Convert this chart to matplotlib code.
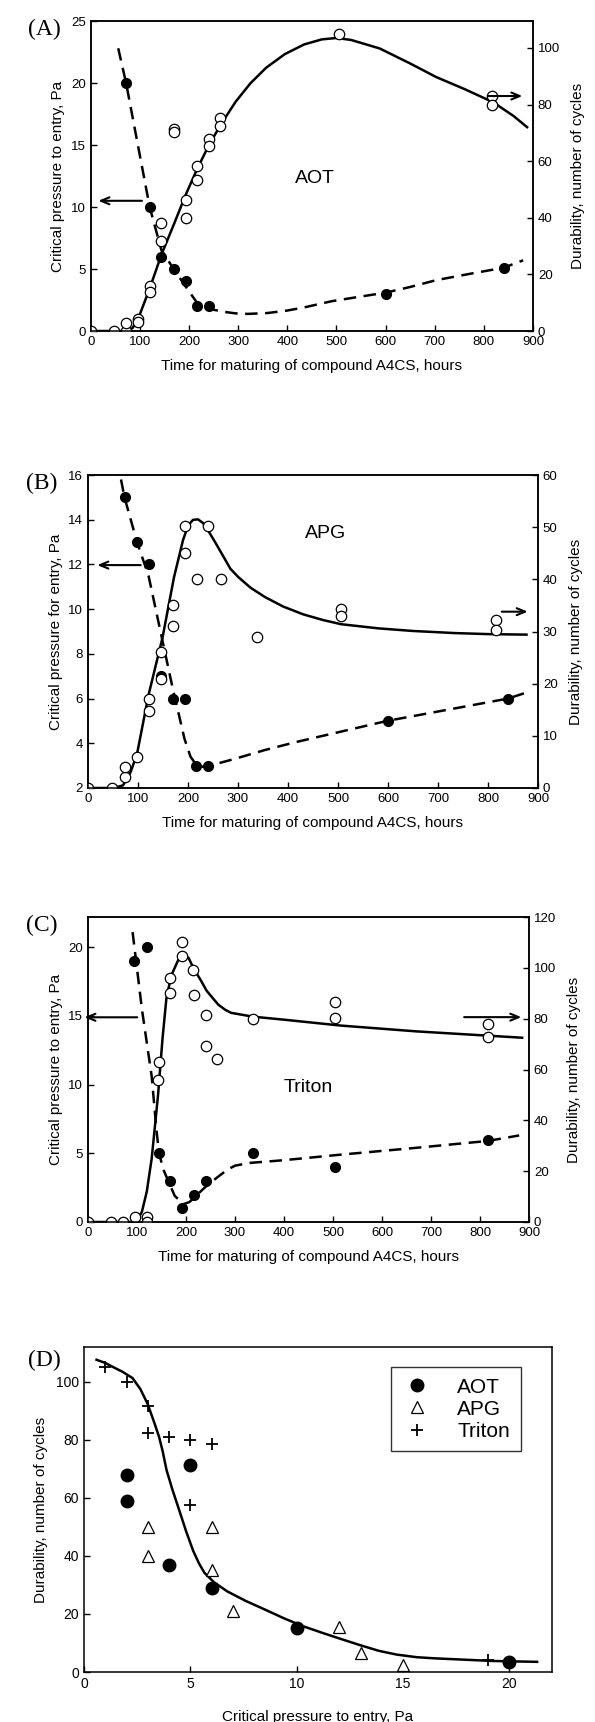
import numpy as np
import matplotlib
matplotlib.use('Agg')
import matplotlib.pyplot as plt

plt.rcParams['font.family'] = ['Liberation Sans', 'DejaVu Sans']

W, H = 595, 1722

# ---- panel A : AOT ----
a_fill_t = [72, 120, 144, 169, 193, 216, 240, 601, 840]
a_fill_p = [20, 10, 6, 5, 4, 2, 2, 3, 5.1]
a_dash_t = [56, 72, 120, 144, 169, 193, 216, 240, 270, 295, 320, 360, 400, 434, 490,
            545, 601, 650, 703, 770, 840, 880]
a_dash_p = [22.8, 20, 10, 6.5, 5, 3.6, 2.3, 1.8, 1.55, 1.42, 1.38, 1.45, 1.65, 1.9, 2.4,
            2.75, 3.1, 3.55, 4.1, 4.6, 5.1, 5.7]
a_open_t = [0, 47, 72, 72, 97, 97, 120, 120, 143, 144, 169, 169, 193, 193, 216, 216,
            240, 240, 264, 264, 505, 817, 817]
a_open_c = [0, 0, 0, 2.7, 4.4, 3.3, 15.8, 13.7, 31.8, 38, 71.3, 70.4, 46.3, 40, 58.4, 53.4,
            67.7, 65.3, 75.4, 72.4, 105, 83.1, 80]
a_fit_t = [0, 72, 85, 97, 120, 144, 170, 193, 216, 240, 265, 295, 325, 357, 395, 434,
           470, 500, 530, 588, 650, 703, 760, 819, 860, 888]
a_fit_c = [0, 0, 1, 4.5, 15, 27, 38, 48, 57, 65.5, 73, 81, 87.5, 93, 97.8, 101.2,
           103, 103.5, 102.8, 99.8, 94.5, 89.7, 85.5, 80.8, 76, 72]

# ---- panel B : APG ----
b_fill_t = [73, 98, 121, 145, 169, 193, 216, 240, 600, 840]
b_fill_p = [15, 13, 12, 7, 6, 6, 3, 3, 5, 6]
b_dash_t = [66, 73, 98, 121, 145, 169, 193, 205, 216, 228, 240, 260, 293, 354, 415, 598, 840, 881]
b_dash_p = [15.8, 15, 13, 11.5, 9, 6.5, 4.2, 3.4, 3.05, 2.95, 3, 3.1, 3.3, 3.7, 4.05, 5, 6, 6.3]
b_open_t = [0, 48, 73, 73, 98, 121, 121, 145, 145, 169, 169, 193, 193, 217, 240, 265,
            337, 506, 506, 815, 815]
b_open_c = [0, 0, 2.1, 4.0, 6, 17, 14.7, 26, 20.8, 35, 31, 50.2, 45, 40, 50.2, 40,
            29, 34.3, 33, 32.3, 30.2]
b_fit_t = [0, 50, 70, 85, 98, 121, 149, 172, 190, 200, 210, 220, 230, 240, 255, 270, 285,
           301, 325, 354, 390, 430, 470, 506, 581, 650, 733, 800, 877]
b_fit_c = [0, 0, 0.5, 3, 6.5, 17.8, 28.8, 40.4, 47.5, 50.3, 51.4, 51.5, 50.8, 49.4, 47, 44.5, 42,
           40.4, 38.4, 36.6, 34.8, 33.3, 32.2, 31.4, 30.6, 30.1, 29.7, 29.5, 29.4]

# ---- panel C : Triton ----
c_fill_t = [93, 120, 145, 168, 192, 216, 240, 336, 504, 816]
c_fill_p = [19, 20, 5, 3, 1, 2, 3, 5, 4, 6]
c_dash_t = [91, 110, 130, 140, 145, 154, 177, 195, 207, 238, 262, 284, 300, 330, 400, 515, 670, 816, 880]
c_dash_p = [21.1, 15.5, 10.6, 6.6, 5, 3.8, 1.9, 1.3, 1.45, 2.5, 3.2, 3.8, 4.1, 4.3, 4.5, 4.9, 5.4, 5.9, 6.3]
c_open_t = [0, 47, 72, 96, 120, 120, 143, 145, 167, 168, 192, 192, 215, 216, 240, 240,
            264, 336, 504, 504, 816, 816]
c_open_c = [0, 0, 0, 2.1, 2.1, 0, 56, 63, 96, 90, 110, 104.7, 99.2, 89.2, 81.3, 69.3,
            64.1, 80, 86.5, 80.4, 77.8, 72.6]
c_fit_t = [0, 91, 100, 110, 120, 130, 143, 152, 160, 170, 184, 195, 205, 215, 232, 242,
           255, 266, 280, 292, 336, 400, 515, 670, 886]
c_fit_c = [0, 0, 0.5, 4, 12, 25, 50, 72, 88, 97, 103, 104.6, 104, 100, 94.5, 91,
           88, 85.5, 83.5, 82.3, 80.8, 79.6, 77.3, 75, 72.5]

# ---- panel D : durability vs critical pressure ----
d_aot_p = [2, 2, 4, 5, 6, 10, 20]
d_aot_c = [68, 59, 37, 71.5, 29, 15, 3.5]
d_apg_p = [3, 3, 6, 6, 7, 12, 13, 15]
d_apg_c = [50, 40, 50, 35, 21, 15.5, 6.5, 2.5]
d_tri_p = [1, 2, 3, 3, 4, 5, 5, 6, 19]
d_tri_c = [105, 100, 91.5, 82.3, 81, 80, 57.6, 78.5, 4]
d_fit_p = [0.59, 1.0, 1.39, 1.8, 2.28, 2.65, 2.99, 3.3, 3.53, 3.7, 3.88, 4.15, 4.42, 4.8,
           5.13, 5.4, 5.66, 6.1, 6.73, 7.6, 8.51, 9.4, 10.29, 11.2, 12.07, 13.0, 13.86,
           14.7, 15.64, 16.5, 17.42, 19.2, 21.3]
d_fit_c = [107.6, 106.5, 105, 103.5, 101.3, 97.5, 92.4, 86, 81, 76, 69.6, 63, 57, 48.5,
           41.8, 37.5, 34.2, 31, 27.8, 24.5, 21.5, 18.5, 15.8, 13.5, 11.4, 9.2, 7.3,
           6, 5.1, 4.7, 4.4, 3.8, 3.5]


def rect(l, t, r, b):
    return [l / W, 1 - b / H, (r - l) / W, (b - t) / H]


fig = plt.figure(figsize=(W / 100, H / 100), dpi=100)

tick_kw = dict(direction='in', labelsize=9.5, length=4, width=1)
dash = (0, (5, 3))
arrow = dict(arrowstyle='->,head_length=0.6,head_width=0.25', lw=1.5)


def time_panel(box, letter, name, fill_t, fill_p, dash_t, dash_p, open_t, open_c,
               fit_t, fit_c, ylim_l, yticks_l, ylim_r, yticks_r, ylab_l,
               name_xy, larrow, rarrow):
    ax = fig.add_axes(rect(*box))
    ax2 = ax.twinx()
    ax.plot(dash_t, dash_p, color='k', lw=1.8, ls=dash)
    ax.plot(fill_t, fill_p, 'o', color='k', ms=7)
    ax2.plot(fit_t, fit_c, color='k', lw=1.8)
    ax2.plot(open_t, open_c, 'o', mfc='white', mec='k', mew=0.9, ms=7.5)
    ax.set_xlim(0, 900)
    ax.set_xticks(range(0, 901, 100))
    ax.set_ylim(*ylim_l)
    ax.set_yticks(yticks_l)
    ax2.set_ylim(*ylim_r)
    ax2.set_yticks(yticks_r)
    ax.tick_params(**tick_kw)
    ax2.tick_params(**tick_kw)
    for a in (ax, ax2):
        for s in a.spines.values():
            s.set_linewidth(1.1)
    ax.set_xlabel('Time for maturing of compound A4CS, hours', fontsize=11, labelpad=8)
    ax.set_ylabel(ylab_l, fontsize=11, labelpad=4)
    ax2.set_ylabel('Durability, number of cycles', fontsize=11, labelpad=8)
    ax.text(name_xy[0], name_xy[1], name, fontsize=14, ha='center', va='center')
    ax.annotate('', xy=(larrow[1], larrow[2]), xytext=(larrow[0], larrow[2]),
                arrowprops=arrow, annotation_clip=False)
    ax2.annotate('', xy=(rarrow[1], rarrow[2]), xytext=(rarrow[0], rarrow[2]),
                 arrowprops=arrow, annotation_clip=False)
    fig.text(box[0] / W - 0.105, 1 - (box[1] + 8) / H, letter, family='Liberation Serif',
             fontsize=17, ha='left', va='center')
    return ax, ax2


time_panel((90.7, 21, 533, 331), '(A)', 'AOT', a_fill_t, a_fill_p, a_dash_t, a_dash_p,
           a_open_t, a_open_c, a_fit_t, a_fit_c, (0, 25), range(0, 26, 5),
           (0, 109.5), range(0, 101, 20), 'Critical pressure to entry, Pa',
           (457, 12.3), (110, 10, 10.5), (803, 884, 83))

time_panel((88, 475, 538, 788), '(B)', 'APG', b_fill_t, b_fill_p, b_dash_t, b_dash_p,
           b_open_t, b_open_c, b_fit_t, b_fit_c, (2, 16), range(2, 17, 2),
           (0, 60), range(0, 61, 10), 'Critical pressure for entry, Pa',
           (475, 13.4), (111, 13, 11.97), (822, 885, 33.8))

time_panel((88, 917, 529, 1222), '(C)', 'Triton', c_fill_t, c_fill_p, c_dash_t, c_dash_p,
           c_open_t, c_open_c, c_fit_t, c_fit_c, (0, 22.2), range(0, 21, 5),
           (0, 120), range(0, 121, 20), 'Critical pressure to entry, Pa',
           (450, 9.8), (106, -13, 14.9), (762, 890, 80.6))

# ---- panel D ----
axd = fig.add_axes(rect(84, 1347, 552, 1672))
axd.plot(d_fit_p, d_fit_c, color='k', lw=1.8)
axd.plot(d_aot_p, d_aot_c, 'o', color='k', ms=9, label='AOT', ls='none')
axd.plot(d_apg_p, d_apg_c, '^', mfc='white', mec='k', mew=0.9, ms=8, label='APG', ls='none')
axd.plot(d_tri_p, d_tri_c, '+', color='k', mew=1.3, ms=9, label='Triton', ls='none')
axd.set_xlim(0, 22)
axd.set_xticks(range(0, 21, 5))
axd.set_ylim(0, 112)
axd.set_yticks(range(0, 101, 20))
axd.tick_params(direction='in', labelsize=10, length=4, width=1)
for s in axd.spines.values():
    s.set_linewidth(1.1)
axd.set_xlabel('Critical pressure to entry, Pa', fontsize=11, labelpad=14)
axd.set_ylabel('Durability, number of cycles', fontsize=11, labelpad=6)
leg = axd.legend(loc='upper right', bbox_to_anchor=(0.955, 0.97), fontsize=15,
                 frameon=True, fancybox=False, edgecolor='k', handletextpad=1.2,
                 borderpad=0.5, labelspacing=0.15, handlelength=1.5)
leg.get_frame().set_linewidth(1.0)
fig.text(28 / W, 1 - 1360 / H, '(D)', family='Liberation Serif', fontsize=17,
         ha='left', va='center')

fig.savefig('out.png', dpi=100)
